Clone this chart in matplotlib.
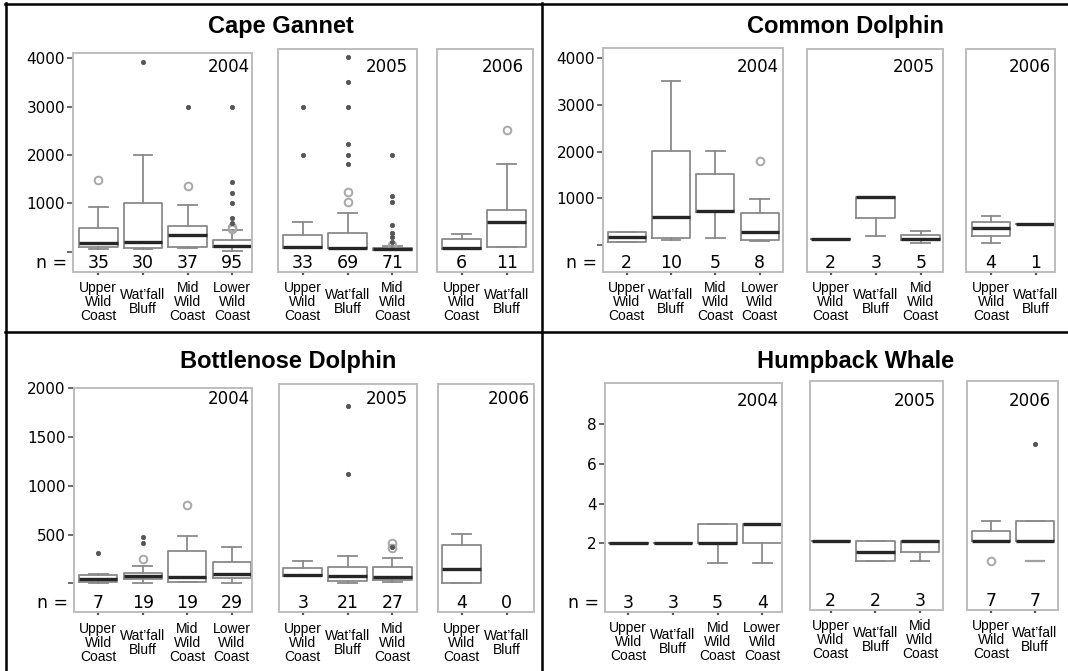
import matplotlib
matplotlib.use("Agg")
import matplotlib.pyplot as plt
from matplotlib.lines import Line2D

W, H, DPI = 1068, 671, 100

# ---------------- data ----------------
years = ["2004", "2005", "2006"]
sites = ["Upper\nWild\nCoast", "Wat\u2019fall\nBluff", "Mid\nWild\nCoast", "Lower\nWild\nCoast"]
sites_per_year = [4, 3, 2]
species = ["Cape Gannet", "Common Dolphin", "Bottlenose Dolphin", "Humpback Whale"]

# Cape Gannet
gannet_n = [[35, 30, 37, 95], [33, 69, 71], [6, 11]]
gannet_whislo = [[50, 50, 69, 20], [69, 55, 30], [55, 103]]
gannet_q1 = [[103, 69, 103, 90], [69, 69, 40], [55, 103]]
gannet_med = [[174, 207, 346, 110], [103, 75, 55], [69, 621]]
gannet_q3 = [[484, 1014, 532, 242], [345, 380, 80], [256, 863]]
gannet_whishi = [[931, 2001, 966, 449], [621, 807, 110], [359, 1815]]
gannet_circles = [[[1484], [], [1359], [470, 510]], [[], [1022, 1229], [139]], [[], [2518]]]
gannet_dots = [[[], [3931], [3000], [600, 690, 1000, 1208, 1448, 3000]],
               [[2000, 3000], [1815, 2000, 2222, 3000, 3505, 4022],
                [207, 310, 393, 552, 1021, 1159, 2000]],
               [[], []]]
gannet_yticks = [0, 1000, 2000, 3000, 4000]
gannet_ylabels = ["", "1000", "2000", "3000", "4000"]

# Common Dolphin
common_n = [[2, 10, 5, 8], [2, 3, 5], [4, 1]]
common_whislo = [[60, 97, 147, 85], [111, 183, 39], [39, 441]]
common_q1 = [[60, 133, 706, 97], [111, 563, 97], [183, 441]]
common_med = [[168, 598, 712, 276], [111, 1014, 111], [362, 441]]
common_q3 = [[276, 2011, 1509, 685], [111, 1014, 204], [491, 441]]
common_whishi = [[276, 3516, 2011, 971], [111, 1014, 290], [613, 441]]
common_circles = [[[], [], [], [1803]], [[], [], []], [[], []]]
common_dots = [[[], [], [], []], [[], [], []], [[], []]]
common_yticks = [0, 1000, 2000, 3000, 4000]
common_ylabels = ["", "1000", "2000", "3000", "4000"]

# Bottlenose Dolphin
bottle_n = [[7, 19, 19, 29], [3, 21, 27], [4, 0]]
bottle_whislo = [[0, 5, 10, 0], [75, 0, 10], [0, None]]
bottle_q1 = [[10, 44, 16, 51], [75, 24, 34], [0, None]]
bottle_med = [[41, 75, 68, 92], [85, 75, 68], [147, None]]
bottle_q3 = [[85, 103, 334, 222], [160, 164, 164], [393, None]]
bottle_whishi = [[92, 181, 485, 369], [229, 280, 256], [506, None]]
bottle_circles = [[[], [249], [803], []], [[], [], [359, 410]], [[], []]]
bottle_dots = [[[308], [410, 478], [], []], [[], [1124, 1822], [376]], [[], []]]
bottle_yticks = [0, 500, 1000, 1500, 2000]
bottle_ylabels = ["", "500", "1000", "1500", "2000"]

# Humpback Whale
hump_n = [[3, 3, 5, 4], [2, 2, 3], [7, 7]]
hump_whislo = [[2, 2, 1, 1], [2.13, 1.11, 1.11], [2.13, 2.13]]
hump_q1 = [[2, 2, 2, 2], [2.13, 1.11, 1.58], [2.13, 2.13]]
hump_med = [[2, 2, 2, 3], [2.13, 1.58, 2.13], [2.13, 2.13]]
hump_q3 = [[2, 2, 3, 3], [2.13, 2.13, 2.13], [2.62, 3.14]]
hump_whishi = [[2, 2, 3, 3], [2.13, 2.13, 2.13], [3.14, 3.14]]
hump_circles = [[[], [], [], []], [[], [], []], [[1.11], []]]
hump_dots = [[[], [], [], []], [[], [], []], [[], [7.0]]]
hump_dashes = [[[], [], [], []], [[], [], []], [[], [1.11]]]
hump_yticks = [2, 4, 6, 8]
hump_ylabels = ["2", "4", "6", "8"]

# ---------------- layout (pixels) ----------------
# per panel: left, right, top, bottom, first tick x, last tick x, year label right x
layouts = [
    dict(y0=251.7, ppu=0.04833, title=(281, 33), year_top=58.3,
         panels=[(73.3, 251.7, 53.3, 271.7, 98.3, 232.3, 250.0),
                 (278.3, 417.3, 49.3, 271.7, 302.7, 392.3, 408.0),
                 (437.3, 532.7, 49.3, 271.7, 461.7, 506.7, 524.0)]),
    dict(y0=244.5, ppu=0.0465, title=(845.6, 33), year_top=58.3,
         panels=[(603.3, 783.3, 48.3, 271.7, 626.7, 759.7, 779.0),
                 (807.3, 942.7, 49.3, 271.7, 830.7, 920.7, 935.0),
                 (965.7, 1055.0, 49.3, 271.7, 991.0, 1035.7, 1051.0)]),
    dict(y0=583.3, ppu=0.0975, title=(287.7, 368.3), year_top=390.0,
         panels=[(74.0, 251.7, 388.3, 612.3, 98.3, 231.7, 250.0),
                 (279.3, 416.7, 384.3, 612.3, 302.7, 392.3, 408.0),
                 (438.3, 534.0, 384.3, 612.3, 461.7, 506.7, 530.0)]),
    dict(y0=583.0, ppu=19.83, title=(855.7, 368.3), year_top=392.0,
         panels=[(605.0, 782.3, 383.3, 611.7, 628.3, 762.3, 779.0),
                 (810.0, 943.3, 381.0, 610.0, 830.7, 920.0, 936.0),
                 (966.7, 1058.3, 381.0, 610.0, 991.0, 1035.0, 1051.0)]),
]

species_data = [
    (gannet_n, gannet_whislo, gannet_q1, gannet_med, gannet_q3, gannet_whishi,
     gannet_circles, gannet_dots, None, gannet_yticks, gannet_ylabels),
    (common_n, common_whislo, common_q1, common_med, common_q3, common_whishi,
     common_circles, common_dots, None, common_yticks, common_ylabels),
    (bottle_n, bottle_whislo, bottle_q1, bottle_med, bottle_q3, bottle_whishi,
     bottle_circles, bottle_dots, None, bottle_yticks, bottle_ylabels),
    (hump_n, hump_whislo, hump_q1, hump_med, hump_q3, hump_whishi,
     hump_circles, hump_dots, hump_dashes, hump_yticks, hump_ylabels),
]

plt.rcParams["font.family"] = ["DejaVu Sans"]
fig = plt.figure(figsize=(W / DPI, H / DPI), dpi=DPI)
fig.patch.set_facecolor("white")

LABEL_FONT = ["Liberation Sans", "DejaVu Sans"]
BOX_C = "#8a8a8a"
FRAME_C = "#bdbdbd"

for sp_name, lay, dat in zip(species, layouts, species_data):
    (n_l, wlo_l, q1_l, med_l, q3_l, whi_l, circ_l, dot_l, dash_l, yt, ytl) = dat
    y0, ppu = lay["y0"], lay["ppu"]
    for yi, (L, R, T, B, t1, tn, yr_x) in enumerate(lay["panels"]):
        k = sites_per_year[yi]
        ax = fig.add_axes([L / W, 1 - B / H, (R - L) / W, (B - T) / H])
        spc = (tn - t1) / (k - 1)
        ax.set_xlim(1 - (t1 - L) / spc, k + (R - tn) / spc)
        ax.set_ylim((y0 - B) / ppu, (y0 - T) / ppu)
        for s in ax.spines.values():
            s.set_color(FRAME_C)
            s.set_linewidth(1.4)

        stats, pos = [], []
        for i in range(k):
            if n_l[yi][i] == 0 or med_l[yi][i] is None:
                continue
            stats.append(dict(whislo=wlo_l[yi][i], q1=q1_l[yi][i], med=med_l[yi][i],
                              q3=q3_l[yi][i], whishi=whi_l[yi][i], fliers=[]))
            pos.append(i + 1)
        if stats:
            ax.bxp(stats, positions=pos, widths=0.86, capwidths=0.42,
                   showfliers=False, patch_artist=False,
                   boxprops=dict(color=BOX_C, lw=1.3),
                   whiskerprops=dict(color=BOX_C, lw=1.3),
                   capprops=dict(color=BOX_C, lw=1.3),
                   medianprops=dict(color="#262626", lw=2.4))
        for i in range(k):
            c = circ_l[yi][i]
            if c:
                ax.plot([i + 1] * len(c), c, ls="none", marker="o", ms=5.5,
                        mfc="none", mec="#a8a8a8", mew=1.4, clip_on=False)
            d = dot_l[yi][i]
            if d:
                ax.plot([i + 1] * len(d), d, ls="none", marker="o", ms=3.2,
                        mfc="#555555", mec="#555555", mew=0.5)
            if dash_l is not None and dash_l[yi][i]:
                dd = dash_l[yi][i]
                ax.plot([i + 1] * len(dd), dd, ls="none", marker="_", ms=14,
                        mec="#a0a0a0", mew=1.6)
            ax.annotate(str(n_l[yi][i]), xy=(i + 1, 0), xycoords=("data", "axes fraction"),
                        xytext=(0, 3), textcoords="offset points",
                        ha="center", va="baseline", fontsize=12.5)

        ax.set_xticks(range(1, k + 1))
        ax.set_xticklabels(sites[:k], family=LABEL_FONT, fontsize=10,
                           linespacing=1.0, multialignment="center")
        for lab in ax.get_xticklabels():
            lab.set_va("center")
        ax.tick_params(axis="x", direction="out", length=2.2, width=1.6,
                       color="#555555", pad=19.6)
        if yi == 0:
            ax.set_yticks(yt)
            ax.set_yticklabels(ytl, fontsize=11)
            ax.tick_params(axis="y", direction="out", length=4, width=1.1,
                           color="#444444", pad=2)
            ax.annotate("n =", xy=(0, 0), xycoords="axes fraction",
                        xytext=(-4.5, 3), textcoords="offset points",
                        ha="right", va="baseline", fontsize=12.5)
        else:
            ax.set_yticks([])
        fig.text(yr_x / W, 1 - lay["year_top"] / H, years[yi], ha="right", va="top",
                 fontsize=12)

    tx, ty = lay["title"]
    fig.text(tx / W, 1 - ty / H, sp_name, ha="center", va="baseline",
             fontsize=17, fontweight="bold", family=LABEL_FONT)

# divider / border lines
def hline(y, x0, x1):
    fig.add_artist(Line2D([x0 / W, x1 / W], [1 - y / H, 1 - y / H],
                          transform=fig.transFigure, color="black", lw=1.8))

def vline(x, y0, y1):
    fig.add_artist(Line2D([x / W, x / W], [1 - y0 / H, 1 - y1 / H],
                          transform=fig.transFigure, color="black", lw=1.8))

hline(3.5, 5, W)
hline(331.5, 5, W)
vline(6, 3, H)
vline(541.5, 3, H)

fig.savefig("out.png", dpi=DPI, facecolor="white")
